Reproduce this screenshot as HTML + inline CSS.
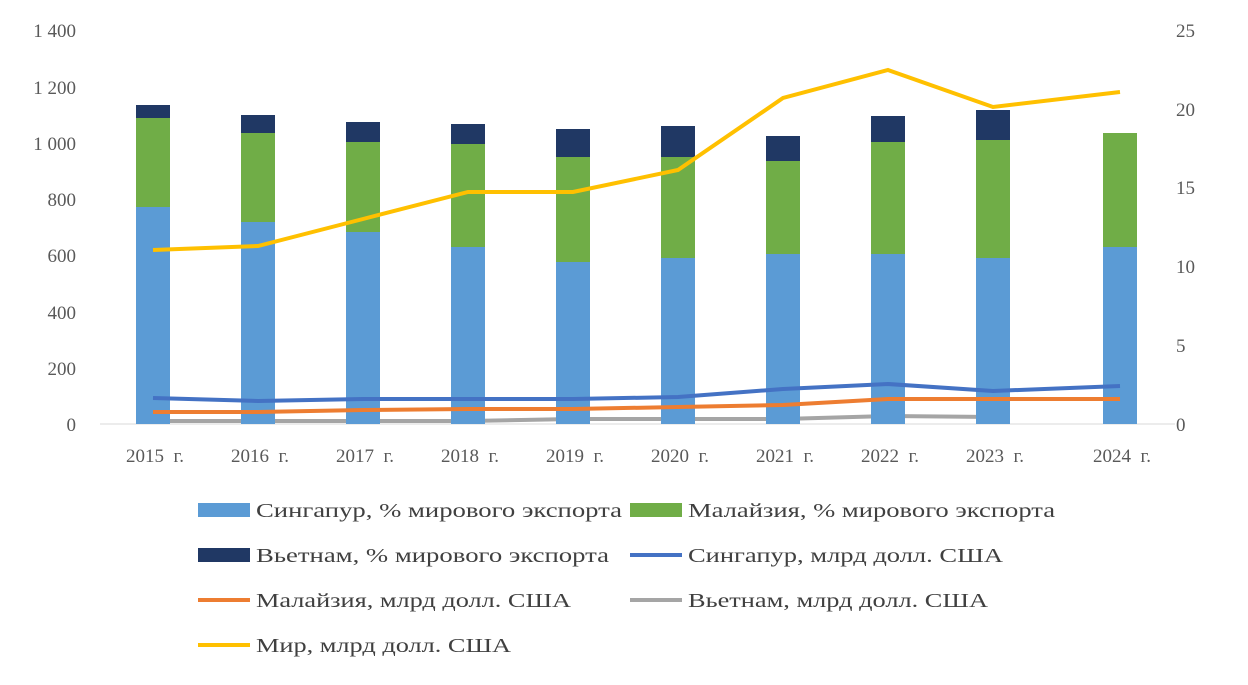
<!DOCTYPE html>
<html><head><meta charset="utf-8"><style>
body{margin:0;background:#fff;}
svg text{font-family:"Liberation Serif",serif;font-size:19px;fill:#595959;}
.lg{fill:#404040;font-size:20px;}
</style></head><body>
<svg width="1248" height="680" xmlns="http://www.w3.org/2000/svg">
<g text-anchor="end">
<text x="76" y="37">1 400</text><text x="76" y="94">1 200</text><text x="76" y="150">1 000</text>
<text x="76" y="206">800</text><text x="76" y="262">600</text><text x="76" y="319">400</text>
<text x="76" y="375">200</text><text x="76" y="431">0</text>
</g>
<g text-anchor="start">
<text x="1176" y="37">25</text><text x="1176" y="116">20</text><text x="1176" y="194">15</text>
<text x="1176" y="273">10</text><text x="1176" y="352">5</text><text x="1176" y="431">0</text>
</g>
<line x1="100" y1="424" x2="1175" y2="424" stroke="#d9d9d9"/>
<polyline fill="none" stroke="#a5a5a5" stroke-width="4" points="153,421 258,421 363,421 468,421 573,419 678,419 783,419 888,416 993,417"/>
<g>
<rect x="136" y="207" width="34" height="217" fill="#5b9bd5"/><rect x="136" y="118" width="34" height="89" fill="#70ad47"/><rect x="136" y="105" width="34" height="13" fill="#203864"/>
<rect x="241" y="222" width="34" height="202" fill="#5b9bd5"/><rect x="241" y="133" width="34" height="89" fill="#70ad47"/><rect x="241" y="115" width="34" height="18" fill="#203864"/>
<rect x="346" y="232" width="34" height="192" fill="#5b9bd5"/><rect x="346" y="142" width="34" height="90" fill="#70ad47"/><rect x="346" y="122" width="34" height="20" fill="#203864"/>
<rect x="451" y="247" width="34" height="177" fill="#5b9bd5"/><rect x="451" y="144" width="34" height="103" fill="#70ad47"/><rect x="451" y="124" width="34" height="20" fill="#203864"/>
<rect x="556" y="262" width="34" height="162" fill="#5b9bd5"/><rect x="556" y="157" width="34" height="105" fill="#70ad47"/><rect x="556" y="129" width="34" height="28" fill="#203864"/>
<rect x="661" y="258" width="34" height="166" fill="#5b9bd5"/><rect x="661" y="157" width="34" height="101" fill="#70ad47"/><rect x="661" y="126" width="34" height="31" fill="#203864"/>
<rect x="766" y="254" width="34" height="170" fill="#5b9bd5"/><rect x="766" y="161" width="34" height="93" fill="#70ad47"/><rect x="766" y="136" width="34" height="25" fill="#203864"/>
<rect x="871" y="254" width="34" height="170" fill="#5b9bd5"/><rect x="871" y="142" width="34" height="112" fill="#70ad47"/><rect x="871" y="116" width="34" height="26" fill="#203864"/>
<rect x="976" y="258" width="34" height="166" fill="#5b9bd5"/><rect x="976" y="140" width="34" height="118" fill="#70ad47"/><rect x="976" y="110" width="34" height="30" fill="#203864"/>
<rect x="1103" y="247" width="34" height="177" fill="#5b9bd5"/><rect x="1103" y="133" width="34" height="114" fill="#70ad47"/>
</g>
<g text-anchor="middle">
<text x="155" y="462">2015 &#160;г.</text><text x="260" y="462">2016 &#160;г.</text><text x="365" y="462">2017 &#160;г.</text>
<text x="470" y="462">2018 &#160;г.</text><text x="575" y="462">2019 &#160;г.</text><text x="680" y="462">2020 &#160;г.</text>
<text x="785" y="462">2021 &#160;г.</text><text x="890" y="462">2022 &#160;г.</text><text x="995" y="462">2023 &#160;г.</text>
<text x="1122" y="462">2024 &#160;г.</text>
</g>
<polyline fill="none" stroke="#ed7d31" stroke-width="4" points="153,412 258,412 363,410 468,409 573,409 678,407 783,405 888,399 993,399 1120,399"/>
<polyline fill="none" stroke="#4472c4" stroke-width="4" points="153,398 258,401 363,399 468,399 573,399 678,397 783,389 888,384 993,391 1120,386"/>
<polyline fill="none" stroke="#ffc000" stroke-width="4" points="153,250 258,246 363,219 468,192 573,192 678,170 783,98 888,70 993,107 1120,92"/>
<rect x="198" y="503" width="52" height="14" fill="#5b9bd5"/><text class="lg" x="256" y="517" textLength="366" lengthAdjust="spacingAndGlyphs">Сингапур,  % мирового экспорта</text>
<rect x="630" y="503" width="52" height="14" fill="#70ad47"/><text class="lg" x="688" y="517" textLength="367" lengthAdjust="spacingAndGlyphs">Малайзия,  % мирового экспорта</text>
<rect x="198" y="548" width="52" height="14" fill="#203864"/><text class="lg" x="256" y="562" textLength="353" lengthAdjust="spacingAndGlyphs">Вьетнам,  % мирового экспорта</text>
<line x1="630" y1="555" x2="682" y2="555" stroke="#4472c4" stroke-width="4"/><text class="lg" x="688" y="562" textLength="315" lengthAdjust="spacingAndGlyphs">Сингапур,  млрд  долл.  США</text>
<line x1="198" y1="600" x2="250" y2="600" stroke="#ed7d31" stroke-width="4"/><text class="lg" x="256" y="607" textLength="315" lengthAdjust="spacingAndGlyphs">Малайзия,  млрд  долл.  США</text>
<line x1="630" y1="600" x2="682" y2="600" stroke="#a5a5a5" stroke-width="4"/><text class="lg" x="688" y="607" textLength="300" lengthAdjust="spacingAndGlyphs">Вьетнам,  млрд  долл.  США</text>
<line x1="198" y1="645" x2="250" y2="645" stroke="#ffc000" stroke-width="4"/><text class="lg" x="256" y="652" textLength="255" lengthAdjust="spacingAndGlyphs">Мир, млрд долл.  США</text>
</svg>
</body></html>
